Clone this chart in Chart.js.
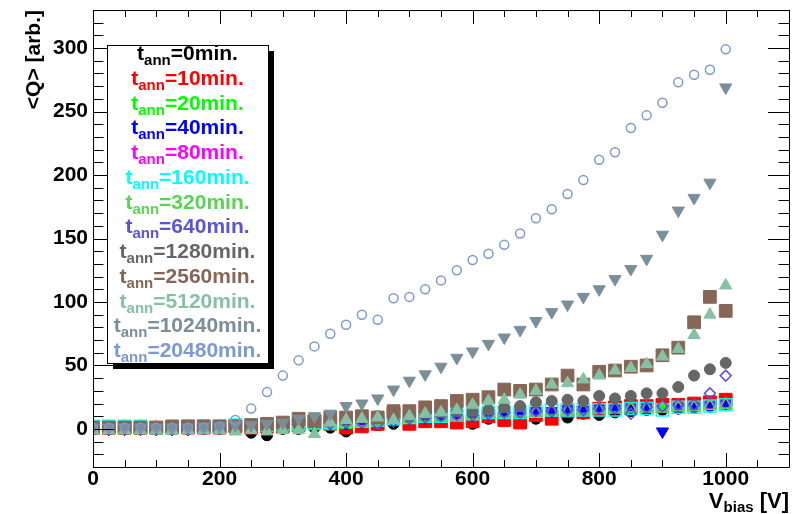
<!DOCTYPE html>
<html>
<head>
<meta charset="utf-8">
<script src="https://cdn.jsdelivr.net/npm/chart.js@4.4.1/dist/chart.umd.min.js"></script>
<style>
  html, body { margin: 0; padding: 0; background: #fff; }
  #wrap { width: 799px; height: 514px; }
</style>
</head>
<body>
<div id="wrap"><canvas id="qChart" width="799" height="514"></canvas></div>
<script>
// bias voltage scan points [V]
const biasVoltage = [0, 25, 50, 75, 100, 125, 150, 175, 200, 225, 250, 275, 300, 325, 350, 375, 400, 425, 450, 475,
    500, 525, 550, 575, 600, 625, 650, 675, 700, 725, 750, 775, 800, 825, 850, 875, 900, 925, 950, 975, 1000];

// mean collected charge <Q> for each annealing step
const ann0 = [0, 0, 0, 0, 0, 0, 0, 0, 0, 0, -3, -5, 0, 0, 1, 1, -2, 2, 3, 4,
    5, 6, 7, 5, 4, 8, 9, 9, 8, 10, 9, 12, 11, 13, 14, 15, 15, 16, 17, 18, 19];
const ann10 = [1, 1, 1, 1, 1, 1, 1, 1, 1, 2, 1, 2, 2, 3, 6, 4, 1, 2, 4, 12,
    4, 6, 6, 5, 6, 10, 7, 5, 11, 8, 14, 13, 16, 17, 18, 18, 19, 19, 20, 21, 23];
const ann20 = [0, 0, 0, 0, 0, 0, 0, 0, 0, 0, 1, 1, 1, 1, 2, 2, 3, 4, 5, 6,
    7, 8, 9, 10, 10, 11, 12, 12, 13, 13, 14, 14, 15, 15, 15, 16, 16, 17, 17, 18, 18];
const ann40 = [0, 0, 0, 0, 0, 0, 0, 4, 2, 1, 1, 2, 2, 3, 3, 4, 4, 5, 6, 7,
    8, 9, 10, 11, 11, 12, 13, 13, 14, 14, 15, 15, 16, 16, 16, 17, -2, 17, 18, 18, 20];
const ann80 = [1, 1, 1, 1, 1, 1, 1, 1, 1, 2, 2, 3, 3, 3, 4, 4, 5, 6, 5, 7,
    8, 9, 10, 10, 11, 12, 12, 13, 13, 14, 15, 15, 16, 16, 17, 17, 17, 18, 18, 19, 20];
const ann160 = [2, 2, 2, 2, 1, 1, 2, 2, 2, 3, 3, 3, 4, 4, 5, 5, 6, 6, 7, 8,
    9, 10, 10, 11, 12, 13, 13, 13, 14, 15, 15, 15, 15, 15, 16, 16, 15, 17, 17, 18, 19];
const ann320 = [1, 1, 1, 1, 1, 1, 1, 1, 1, 2, 2, 2, 3, 3, 4, 4, 5, 5, 6, 7,
    8, 9, 9, 10, 11, 12, 12, 13, 13, 14, 14, 15, 15, 16, 16, 16, 16, 17, 17, 18, 19];
const ann640 = [1, 1, 1, 1, 1, 1, 1, 1, 1, 2, 2, 3, 3, 3, 4, 4, 5, 5, 4, 6,
    8, 9, 10, 11, 11, 12, 13, 13, 14, 14, 15, 15, 16, 16, 12, 17, 18, 19, 19, 28, 42];
const ann1280 = [0, 0, 0, 0, 0, 0, 0, 0, 0, 0, 1, 1, 2, 3, 5, 6, 8, 9, 10, 9,
    10, 12, 13, 14, 14, 15, 17, 18, 21, 22, 23, 22, 26, 24, 26, 28, 28, 33, 42, 47, 52];
const ann2560 = [1, 1, 1, 1, 1, 2, 2, 2, 2, 2, 3, 4, 5, 8, 6, 9, 9, 10, 9, 14,
    14, 17, 18, 22, 23, 25, 31, 30, 31, 35, 42, 35, 45, 46, 49, 50, 58, 64, 84, 104, 93];
const ann5120 = [-1, -1, -1, -1, -1, -1, -1, -1, -1, -2, -1, -2, -1, -1, -4, 5, 7, 8, 9, 7,
    10, 12, 13, 15, 19, 22, 23, 27, 30, 35, 36, 39, 42, 46, 48, 51, 57, 63, 74, 90, 113];
const ann10240 = [1, 1, 1, 1, 1, 1, 1, 2, 2, 3, 3, 4, 5, 8, 10, 12, 18, 20, 24, 31,
    38, 43, 49, 56, 61, 67, 72, 78, 85, 92, 98, 104, 110, 118, 126, 134, 153, 172, 182, 194, 269];
const ann20480 = [1, 1, 1, 1, 1, 1, 1, 1, 2, 7, 16, 29, 42, 54, 65, 75, 82, 90, 86, 103,
    104, 110, 117, 125, 133, 138, 145, 154, 166, 173, 185, 196, 212, 218, 237, 247, 257, 273, 279, 283, 299];

const annealMinutes = ['0', '10', '20', '40', '80', '160', '320', '640', '1280', '2560', '5120', '10240', '20480'];
const seriesValues = [ann0, ann10, ann20, ann40, ann80, ann160, ann320, ann640, ann1280, ann2560, ann5120, ann10240, ann20480];

const xTickValues = [0, 200, 400, 600, 800, 1000];
const yTickValues = [0, 50, 100, 150, 200, 250, 300];

// colours and marker styles per annealing step
const colors = ['#000000', '#ff0000', '#00ff00', '#0000ff', '#ff00ff', '#00ffff', '#59d454', '#5954d9',
    '#666666', '#876656', '#85c2a3', '#7a8f99', '#7d99d1'];
const markers = [
    { style: 'circle', r: 5.5, fill: true },
    { style: 'rect', r: 9, fill: true },
    { style: 'triangle', r: 7, fill: true },
    { style: 'triangle', r: 7, fill: true, rot: 180 },
    { style: 'circle', r: 4.5, fill: false },
    { style: 'rect', r: 8.5, fill: false },
    { style: 'triangle', r: 7, fill: false },
    { style: 'rectRot', r: 5.5, fill: false }
];

const FONT = '"Liberation Sans", Arial, Helvetica, sans-serif';

const datasets = seriesValues.map(function (vals, i) {
    const m = markers[i % markers.length];
    return {
        label: annealMinutes[i] + ' min',
        data: vals.map(function (q, k) { return { x: biasVoltage[k], y: q }; }),
        showLine: false,
        pointStyle: m.style,
        pointRadius: m.r,
        pointHoverRadius: m.r,
        pointRotation: m.rot || 0,
        pointBackgroundColor: m.fill ? colors[i] : 'rgba(0,0,0,0)',
        pointBorderColor: colors[i],
        pointBorderWidth: m.fill ? 1 : 1.5,
        order: seriesValues.length - i   // later annealing steps drawn on top
    };
});

// white page background
const whiteBackground = {
    id: 'whiteBackground',
    beforeDraw(chart) {
        const ctx = chart.ctx;
        ctx.save();
        ctx.fillStyle = '#fff';
        ctx.fillRect(0, 0, chart.width, chart.height);
        ctx.restore();
    }
};

// frame with inward ticks on all four sides, plus axis titles
const frameAndTitles = {
    id: 'frameAndTitles',
    afterDraw(chart) {
        const ctx = chart.ctx;
        const a = chart.chartArea;
        const xs = chart.scales.x, ys = chart.scales.y;
        ctx.save();
        ctx.strokeStyle = '#000';
        ctx.lineWidth = 1;
        ctx.beginPath();
        ctx.rect(Math.round(a.left) + 0.5, Math.round(a.top) + 0.5,
            Math.round(a.right - a.left), Math.round(a.bottom - a.top));
        for (let v = 0; v <= 1100; v += 50) {
            const px = Math.round(xs.getPixelForValue(v)) + 0.5;
            const len = v % 200 === 0 ? 14 : 7;
            ctx.moveTo(px, a.bottom); ctx.lineTo(px, a.bottom - len);
            ctx.moveTo(px, a.top); ctx.lineTo(px, a.top + len);
        }
        for (let v = -30; v <= 330; v += 10) {
            const py = Math.round(ys.getPixelForValue(v)) + 0.5;
            const len = v % 50 === 0 ? 21 : 10.5;
            ctx.moveTo(a.left, py); ctx.lineTo(a.left + len, py);
            ctx.moveTo(a.right, py); ctx.lineTo(a.right - len, py);
        }
        ctx.stroke();

        // y title, rotated and aligned to the top of the axis
        ctx.fillStyle = '#000';
        ctx.font = 'bold 21px ' + FONT;
        ctx.translate(40, 10);
        ctx.rotate(-Math.PI / 2);
        ctx.textAlign = 'right';
        ctx.textBaseline = 'alphabetic';
        ctx.fillText('<Q> [arb.]', 0, 0);
        ctx.setTransform(1, 0, 0, 1, 0, 0);

        // x title with subscript, aligned to the right end of the axis
        const big = 'bold 22px ' + FONT, small = 'bold 15px ' + FONT;
        ctx.textAlign = 'left';
        ctx.font = big; const wV = ctx.measureText('V').width; const wU = ctx.measureText(' [V]').width;
        ctx.font = small; const wS = ctx.measureText('bias').width;
        let x0 = a.right - (wV + wS + wU);
        ctx.font = big; ctx.fillText('V', x0, 508);
        ctx.font = small; ctx.fillText('bias', x0 + wV, 512);
        ctx.font = big; ctx.fillText(' [V]', x0 + wV + wS, 508);
        ctx.restore();
    }
};

// legend box with t_ann labels in series colours
const annealLegend = {
    id: 'annealLegend',
    afterDraw(chart) {
        const ctx = chart.ctx;
        const bx = 107, by = 45, bw = 161, bh = 318;
        ctx.save();
        ctx.fillStyle = '#000';
        ctx.fillRect(bx + 6, by + 6, bw, bh);
        ctx.fillStyle = '#fff';
        ctx.fillRect(bx, by, bw, bh);
        ctx.strokeStyle = '#000';
        ctx.lineWidth = 1;
        ctx.strokeRect(bx + 0.5, by + 0.5, bw, bh);

        const big = 'bold 21px ' + FONT, small = 'bold 15px ' + FONT;
        const cx = bx + bw / 2;
        ctx.textBaseline = 'alphabetic';
        ctx.textAlign = 'left';
        annealMinutes.forEach(function (t, i) {
            const base = 60 + i * 24.75;
            const tail = '=' + t + 'min.';
            ctx.font = big; const wt = ctx.measureText('t').width; const wTail = ctx.measureText(tail).width;
            ctx.font = small; const wa = ctx.measureText('ann').width;
            const x0 = cx - (wt + wa + wTail) / 2;
            ctx.fillStyle = colors[i];
            ctx.font = big; ctx.fillText('t', x0, base);
            ctx.font = small; ctx.fillText('ann', x0 + wt, base + 5);
            ctx.font = big; ctx.fillText(tail, x0 + wt + wa, base);
        });
        ctx.restore();
    }
};

new Chart(document.getElementById('qChart').getContext('2d'), {
    type: 'scatter',
    data: { datasets: datasets },
    options: {
        responsive: false,
        animation: false,
        layout: { padding: { left: 0, right: 10, top: 8, bottom: 0 } },
        plugins: {
            legend: { display: false },
            tooltip: { enabled: false }
        },
        scales: {
            x: {
                type: 'linear',
                min: 0,
                max: 1100,
                grid: { display: false, drawTicks: false },
                border: { display: false },
                afterBuildTicks: function (scale) {
                    scale.ticks = xTickValues.map(function (v) { return { value: v }; });
                },
                afterFit: function (scale) {
                    scale.height = 47;
                    scale.paddingLeft = 0;
                    scale.paddingRight = 0;
                },
                ticks: {
                    color: '#000',
                    padding: 0,
                    maxRotation: 0,
                    callback: function (v) { return String(v); },
                    font: { family: FONT, size: 21, weight: 'bold' }
                }
            },
            y: {
                type: 'linear',
                min: -30,
                max: 330,
                grid: { display: false, drawTicks: false },
                border: { display: false },
                afterBuildTicks: function (scale) {
                    scale.ticks = yTickValues.map(function (v) { return { value: v }; });
                },
                afterFit: function (scale) {
                    scale.width = 93;
                    scale.paddingTop = 0;
                    scale.paddingBottom = 0;
                },
                ticks: {
                    color: '#000',
                    padding: 5,
                    callback: function (v) { return String(v); },
                    font: { family: FONT, size: 21, weight: 'bold' }
                }
            }
        }
    },
    plugins: [whiteBackground, frameAndTitles, annealLegend]
});
</script>
</body>
</html>
